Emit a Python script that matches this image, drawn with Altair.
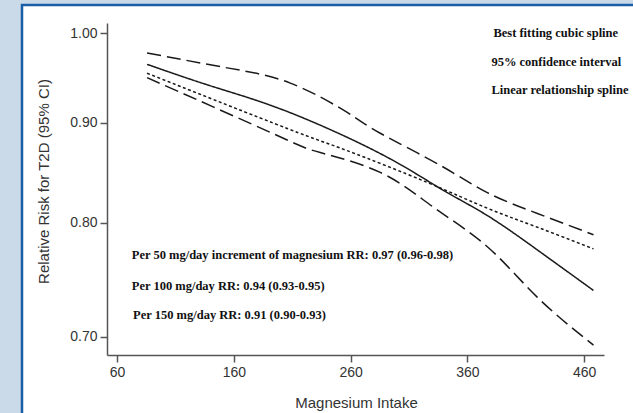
import altair as alt
import pandas as pd

# ---- data ----
upper_x = [85.7, 154.3, 208.3, 257.1, 285.4, 336.9, 377.1, 420.0, 468.0]
upper_y = [0.977, 0.960, 0.943, 0.911, 0.889, 0.856, 0.829, 0.809, 0.789]

spline_x = [85.7, 142.3, 205.7, 285.4, 336.9, 377.1, 420.0, 468.0]
spline_y = [0.964, 0.939, 0.912, 0.868, 0.833, 0.807, 0.775, 0.739]

linear_x = [85.7, 205.7, 257.1, 325.7, 377.1, 420.0, 468.0]
linear_y = [0.954, 0.894, 0.871, 0.839, 0.814, 0.796, 0.776]

lower_x = [85.7, 142.3, 205.7, 234.0, 285.4, 330.9, 377.1, 420.0, 468.0]
lower_y = [0.949, 0.917, 0.882, 0.869, 0.849, 0.815, 0.778, 0.733, 0.693]

legend_labels = ["Best fitting cubic spline", "95% confidence interval",
                 "Linear relationship spline"]
legend_x = [382.3, 380.6, 380.6]
legend_y = [1.0, 0.967, 0.935]

note_labels = ["Per 50 mg/day increment of magnesium RR: 0.97 (0.96-0.98)",
               "Per 100 mg/day RR: 0.94 (0.93-0.95)",
               "Per 150 mg/day RR: 0.91 (0.90-0.93)"]
note_x = [72.6, 72.6, 73.7]
note_y = [0.770, 0.743, 0.718]

x_ticks = [60, 160, 260, 360, 460]
y_ticks = [0.70, 0.80, 0.90, 1.00]

# ---- build tables ----
def series(name, xs, ys):
    return pd.DataFrame({"intake": xs, "rr": ys, "series": name})

lines = pd.concat([
    series("upper", upper_x, upper_y),
    series("spline", spline_x, spline_y),
    series("linear", linear_x, linear_y),
    series("lower", lower_x, lower_y),
])
legend_df = pd.DataFrame({"intake": legend_x, "rr": legend_y, "label": legend_labels})
notes_df = pd.DataFrame({"intake": note_x, "rr": note_y, "label": note_labels})

W, H = 497, 332

xs = alt.Scale(domain=[51.4, 477], nice=False, zero=False)
ys = alt.Scale(type="log", domain=[0.685, 1.012], nice=False, zero=False)

panel = alt.Chart(pd.DataFrame({"a": [0]})).mark_rect(
    fill="white", stroke="#1a5ea8", strokeWidth=2.5, clip=False
).encode(
    x=alt.value(-85), x2=alt.value(W + 60),
    y=alt.value(-18), y2=alt.value(H + 80),
)

base = alt.Chart(lines).encode(
    x=alt.X("intake:Q", scale=xs,
            axis=alt.Axis(values=x_ticks, title="Magnesium Intake",
                          titleX=249, titleY=47, titleBaseline="middle",
                          titleAlign="center", zindex=1)),
    y=alt.Y("rr:Q", scale=ys,
            axis=alt.Axis(values=y_ticks, format=".2f",
                          title="Relative Risk for T2D (95% CI)",
                          titleX=-64, titleY=158, titleBaseline="middle",
                          titleAlign="center", titleAngle=-90, zindex=1)),
    detail="series:N",
)

line_layer = base.mark_line(color="#1a1a1a", strokeWidth=1.5, interpolate="natural").encode(
    strokeDash=alt.StrokeDash(
        "series:N",
        scale=alt.Scale(domain=["upper", "spline", "linear", "lower"],
                        range=[[14, 6], [1, 0], [3, 2.5], [14, 6]]),
        legend=None,
    )
)

legend_text = alt.Chart(legend_df).mark_text(
    align="left", baseline="middle", font="Liberation Serif",
    fontWeight="bold", fontSize=12.5, color="#111"
).encode(x=alt.X("intake:Q", scale=xs), y=alt.Y("rr:Q", scale=ys), text="label:N")

notes_text = alt.Chart(notes_df).mark_text(
    align="left", baseline="middle", font="Liberation Serif",
    fontWeight="bold", fontSize=12.5, color="#111"
).encode(x=alt.X("intake:Q", scale=xs), y=alt.Y("rr:Q", scale=ys), text="label:N")

chart = alt.layer(panel, line_layer, legend_text, notes_text).properties(
    width=W, height=H,
    autosize=alt.AutoSizeParams(type="none"),
    padding={"left": 107, "top": 23, "right": 29, "bottom": 58},
    background="#cbdae8",
).configure_view(stroke=None).configure_axis(
    grid=False, zindex=1,
    domainColor="#555", domainWidth=1.5,
    tickColor="#555", tickWidth=1.5, tickSize=7,
    labelFont="Liberation Sans", labelFontSize=14, labelColor="#333",
    labelPadding=3,
    titleFont="Liberation Sans", titleFontSize=15, titleFontWeight="normal",
    titleColor="#333",
)

chart.save("out.html", embed_options={"renderer": "svg", "actions": False})
